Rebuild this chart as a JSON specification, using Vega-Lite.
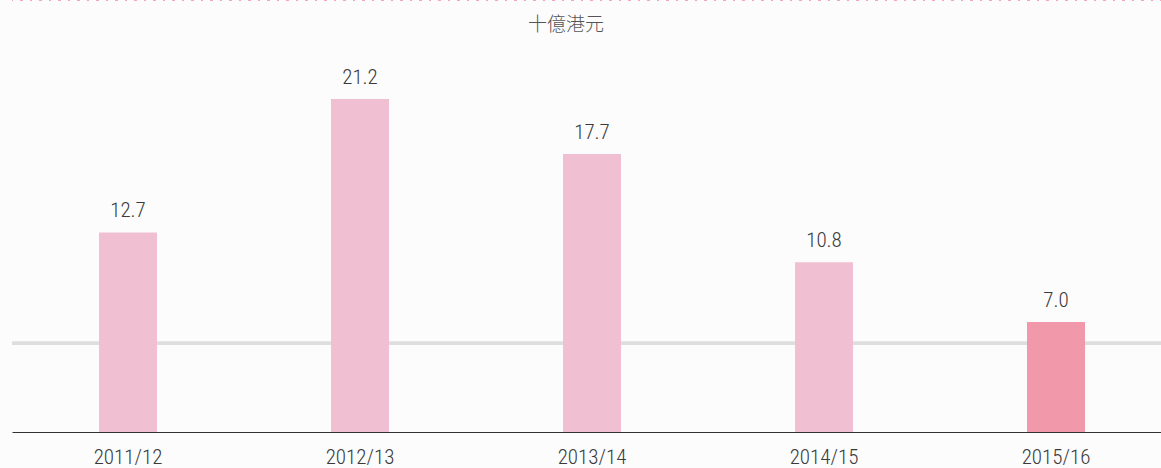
{
  "$schema": "https://vega.github.io/schema/vega-lite/v6.json",
  "autosize": {"type": "none"},
  "width": 1160,
  "height": 432,
  "padding": {"left": 12, "top": 0, "right": 0, "bottom": 36},
  "background": "#fcfcfc",
  "config": {"view": {"stroke": null}},
  "title": {"text": "十億港元", "orient": "top", "anchor": "middle", "frame": "group", "offset": -36, "dx": -26, "font": "Noto Sans CJK TC", "fontSize": 19, "fontWeight": 300, "color": "#555555"},
  "data": {"values": [
    {"year": "2011/12", "value": 12.7},
    {"year": "2012/13", "value": 21.2},
    {"year": "2013/14", "value": 17.7},
    {"year": "2014/15", "value": 10.8},
    {"year": "2015/16", "value": 7.0}
  ]},
  "encoding": {
    "x": {"field": "year", "type": "nominal", "sort": null, "title": null,
      "scale": {"paddingInner": 0.75, "paddingOuter": 0.375},
      "axis": {"labelAngle": 0, "ticks": false, "domainColor": "#333333", "domainWidth": 1.2, "labelFont": "Roboto Condensed, Liberation Sans Narrow, DejaVu Sans Condensed, Roboto", "labelFontSize": 21, "labelFontWeight": 300, "labelColor": "#3a3a3a", "labelPadding": 14}},
    "y": {"field": "value", "type": "quantitative", "scale": {"domain": [0, 27.5], "nice": false}, "axis": null}
  },
  "layer": [
    {"mark": {"type": "rule", "stroke": "#dedede", "strokeWidth": 3}, "encoding": {"x": null, "y": {"datum": 5.65}}},
    {"mark": {"type": "rule", "stroke": "#f4a3c2", "strokeWidth": 2, "strokeDash": [2, 7.5]}, "encoding": {"x": null, "y": {"datum": 27.5}}},
    {"mark": {"type": "bar"}, "encoding": {"color": {"field": "year", "type": "nominal", "legend": null, "scale": {"domain": ["2011/12", "2012/13", "2013/14", "2014/15", "2015/16"], "range": ["#f0c0d2", "#f0c0d2", "#f0c0d2", "#f0c0d2", "#f198ab"]}}}},
    {"mark": {"type": "text", "dy": -21, "font": "Roboto Condensed, Liberation Sans Narrow, DejaVu Sans Condensed, Roboto", "fontSize": 21, "fontWeight": 300, "color": "#3a3a3a"}, "encoding": {"text": {"field": "value", "type": "quantitative", "format": ".1f"}}}
  ]
}
